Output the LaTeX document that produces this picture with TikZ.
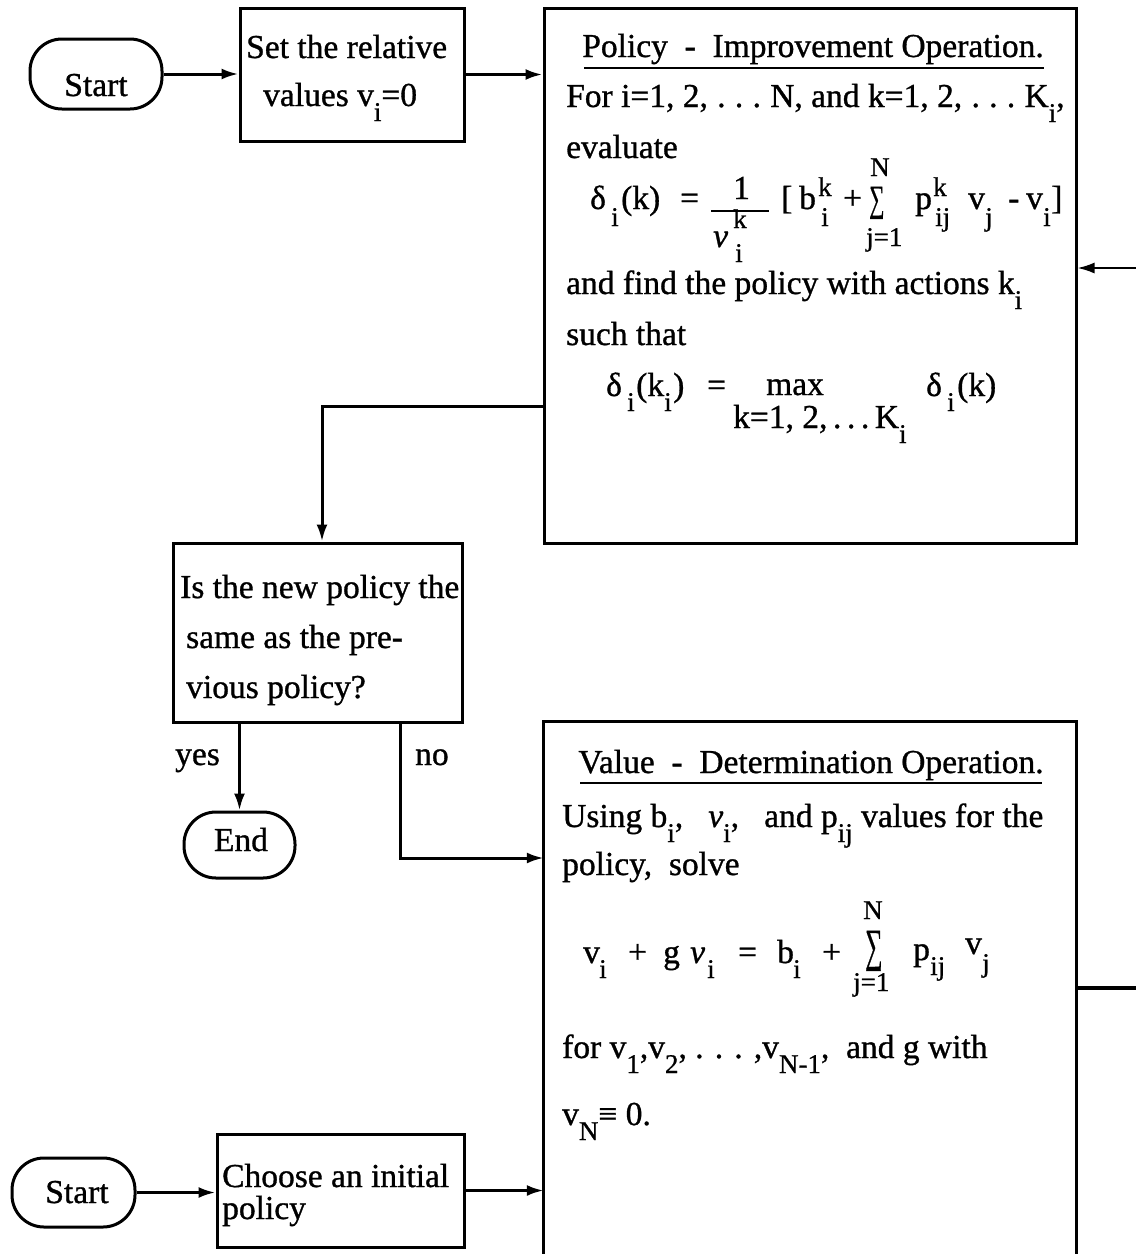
\documentclass[tikz,border=0pt]{standalone}
\usepackage{fontspec}
\setmainfont{Liberation Serif}[FakeBold=0.9]
\usetikzlibrary{arrows.meta,fit}

\newcommand\mainsz{\fontsize{33.5}{40}\selectfont}
\newcommand\subsz{\fontsize{27}{30}\selectfont}
\newcommand\dnx[1]{\raisebox{-15pt}{\subsz #1}}
% narrow summation sign: #1 font size, #2 horizontal factor, #3/#4 box height/depth
\newcommand\sumsign[4]{\raisebox{0pt}[#3][#4]{\scalebox{#2}[1]{\fontsize{#1}{#1}\selectfont ∑}}}

\begin{document}
\begin{tikzpicture}[x=1pt,y=-1pt,
  box/.style={draw, line width=3pt, inner sep=0pt},
  stad/.style={draw, line width=3pt, inner sep=0pt, rounded corners=32pt},
  txt/.style={anchor=base west, inner sep=0pt, font=\mainsz},
  stxt/.style={anchor=base west, inner sep=0pt, font=\subsz},
  arr/.style={-{Latex[length=17pt,width=11pt]}, line width=3pt},
  rule/.style={line width=2.2pt}]
\useasboundingbox (0,0) rectangle (1136,1254);
\fill[white] (0,0) rectangle (1136,1254);

% ---------- top row: start, initial values ----------
\node[stad, fit={(30,39) (162,109)}] (s1) {};
\node[txt, anchor=base] (s1t) at (96,96) {Start};
\node[box, fit={(240,8) (464,141)}] (b1) {};
\node[txt] (b1a) at (246,58) {Set the relative};
\node[txt] (b1b) at (263,106) {values v\dnx{i}=0};

% ---------- policy-improvement operation ----------
\node[box, fit={(544,8) (1076,543)}] (pol) {};
\node[txt, anchor=base] (polT) at (813,57) {Policy\ \ -\ \ Improvement Operation.};
\draw[rule] (584,68) -- (1044,68);
\node[txt] (pol1) at (566,107) {For i=1, 2,\;.\;.\;.\;N,\ and k=1, 2,\;.\;.\;.\;K\dnx{i},};
\node[txt] (pol2) at (566,158) {evaluate};
% delta_i(k) = 1/nu_i^k [ b_i^k + sum p_ij^k v_j - v_i ]
\node[txt]  (fa1) at (590,209) {δ};
\node[stxt] (fa2) at (611,226) {i};
\node[txt]  (fa3) at (621,209) {(k)};
\node[txt]  (fa4) at (680,209) {=};
\node[txt]  (fa5) at (733,199) {1};
\draw[rule] (711,211) -- (769,211);
\node[txt]  (fa6) at (713,247) {\itshape ν};
\node[stxt] (fa7) at (733,228) {k};
\node[stxt] (fa8) at (735,262) {i};
\node[txt]  (fa9) at (781,209) {[};
\node[txt]  (fb1) at (799,209) {b};
\node[stxt] (fb2) at (818,196) {k};
\node[stxt] (fb3) at (821,226) {i};
\node[txt]  (fb4) at (843,209) {+};
\node[stxt] (fb5) at (870,176) {N};
\node[txt]  (fb6) at (869,211) {\sumsign{37pt}{0.58}{26pt}{5pt}};
\node[stxt] (fb7) at (866,246) {j=1};
\node[txt]  (fb8) at (915,209) {p};
\node[stxt] (fb9) at (933,196) {k};
\node[stxt] (fc1) at (935,226) {ij};
\node[txt]  (fc2) at (968,209) {v};
\node[stxt] (fc3) at (985,226) {j};
\node[txt]  (fc4) at (1008,209) {-};
\node[txt]  (fc5) at (1026,209) {v};
\node[stxt] (fc6) at (1043,226) {i};
\node[txt]  (fc7) at (1051,209) {]};
\node[txt] (pol3) at (566,294) {and find the policy with actions k\dnx{i}};
\node[txt] (pol4) at (566,345) {such that};
% delta_i(k_i) = max delta_i(k)
\node[txt]  (ga1) at (606,396) {δ};
\node[stxt] (ga2) at (627,411) {i};
\node[txt]  (ga3) at (636,396) {(k};
\node[stxt] (ga4) at (664,411) {i};
\node[txt]  (ga5) at (673,396) {)};
\node[txt]  (ga6) at (707,396) {=};
\node[txt]  (ga7) at (766,395) {max};
\node[txt]  (ga8) at (733,428) {k=1, 2,\,.\,.\,.\,K\dnx{i}};
\node[txt]  (gb1) at (926,396) {δ};
\node[stxt] (gb2) at (947,411) {i};
\node[txt]  (gb3) at (957,396) {(k)};

% ---------- decision ----------
\node[box, fit={(173,543) (462,722)}] (dec) {};
\node[txt] (dec1) at (180,598) {Is the new policy the};
\node[txt] (dec2) at (186,648) {same as the pre-};
\node[txt] (dec3) at (186,698) {vious policy?};
\node[stad, fit={(184,812) (295,878)}] (end) {};
\node[txt, anchor=base] (endt) at (241,851) {End};
\node[txt] (yes) at (175,765) {yes};
\node[txt] (no) at (415,765) {no};

% ---------- value-determination operation (open at the bottom) ----------
\node[fit={(544,722) (1076,1262)}, inner sep=0pt] (val) {};
\draw[line width=3pt] (val.south west) -- (val.north west) -- (val.north east) -- (val.south east);
\node[txt, anchor=base] (valT) at (811,773) {Value\ \ -\ \ Determination Operation.};
\draw[rule] (580,783) -- (1042,783);
\node[txt] (val1) at (562,827) {Using b\dnx{i},\ \ \ \textit{ν}\dnx{i},\ \ \ and p\dnx{ij}\ values for\ the};
\node[txt] (val2) at (562,875) {policy,\ \ solve};
% v_i + g nu_i = b_i + sum p_ij v_j
\node[txt]  (ha1) at (583,963) {v};
\node[stxt] (ha2) at (599,978) {i};
\node[txt]  (ha3) at (628,963) {+};
\node[txt]  (ha4) at (663,963) {g};
\node[txt]  (ha5) at (690,963) {\itshape ν};
\node[stxt] (ha6) at (707,978) {i};
\node[txt]  (ha7) at (738,963) {=};
\node[txt]  (ha8) at (777,963) {b};
\node[stxt] (ha9) at (793,978) {i};
\node[txt]  (hb1) at (822,963) {+};
\node[stxt] (hb2) at (863,919) {N};
\node[txt]  (hb3) at (865,961) {\sumsign{46pt}{0.53}{32pt}{6pt}};
\node[stxt] (hb4) at (853,991) {j=1};
\node[txt]  (hb5) at (913,960) {p};
\node[stxt] (hb6) at (930,975) {ij};
\node[txt]  (hb7) at (965,954) {v};
\node[stxt] (hb8) at (982,972) {j};
\node[txt] (val3) at (562,1058) {for v\dnx{1},v\dnx{2}, . . . ,v\dnx{N-1},\ \ and g with};
\node[txt] (val4) at (562,1125) {v\dnx{N}≡ 0.};

% ---------- bottom row: start, initial policy ----------
\node[stad, fit={(12,1158) (135,1227)}] (s2) {};
\node[txt, anchor=base] (s2t) at (77,1203) {Start};
\node[box, fit={(217,1134) (464,1247)}] (b2) {};
\node[txt] (b2a) at (222,1187) {Choose an initial};
\node[txt] (b2b) at (222,1219) {policy};

% ---------- connectors ----------
\coordinate (inR) at (1136,268);
\coordinate (outR) at (1136,988);
\coordinate (turn) at (322,406);
\coordinate (nox) at (400,858);

\draw[arr] (s1.east) -- (s1.east -| b1.west);
\draw[arr] (b1.east) -- (b1.east -| pol.west);
\draw[arr, line width=2pt] (inR) -- (inR -| pol.east);
\draw[arr] (turn -| pol.west) -- (turn) -- (turn |- dec.north);
\draw[arr] (dec.south -| end.north) -- (end.north);
\draw[arr] (dec.south -| nox) -- (nox) -- (nox -| val.west);
\draw[line width=3.4pt] (outR -| val.east) -- (outR);
\draw[arr] (s2.east) -- (s2.east -| b2.west);
\draw[arr] (b2.east) -- (b2.east -| val.west);
\end{tikzpicture}
\end{document}
